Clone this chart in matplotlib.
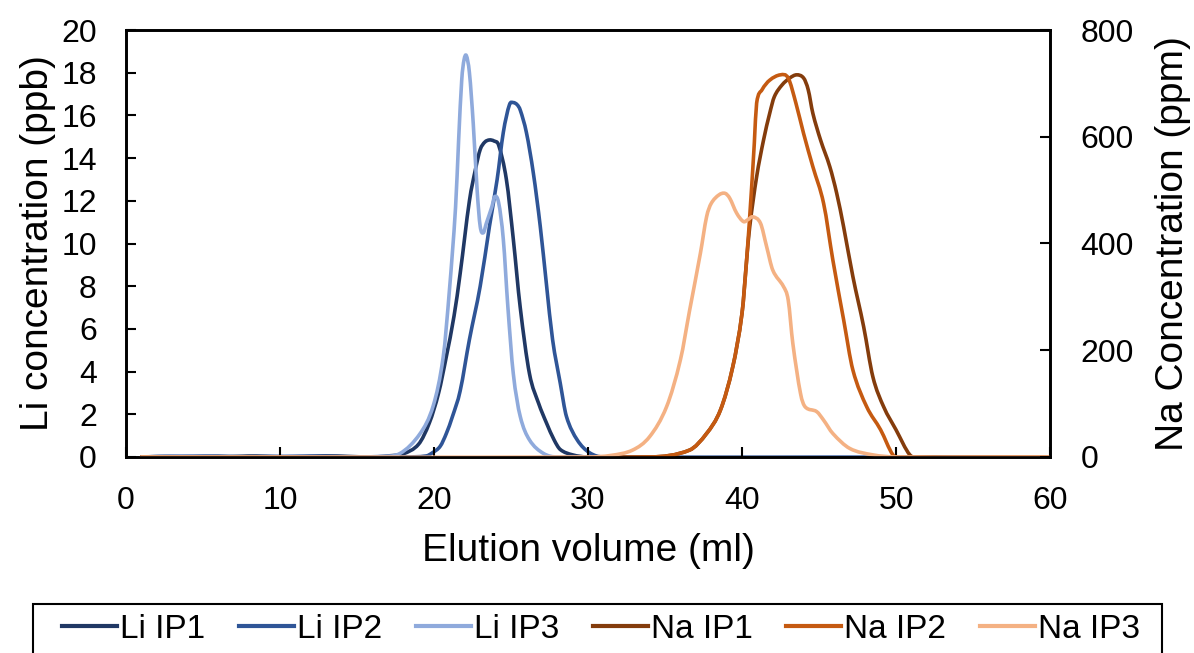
import matplotlib
matplotlib.use("Agg")
import matplotlib.pyplot as plt
from matplotlib.path import Path
from matplotlib.patches import PathPatch, Rectangle
from matplotlib.lines import Line2D

plt.rcParams['font.family'] = ['Liberation Sans', 'DejaVu Sans']

# Li series (left axis, ppb)
li_ip1_x = [1, 4, 6, 8.5, 11, 13, 16, 17, 18, 19, 19.7, 20.3, 20.8, 21.3, 21.7, 22.3, 22.7, 23.0, 23.3, 23.6,
            23.9, 24.2, 24.7, 25.15, 25.6, 26.2, 26.8, 27.3, 27.8, 28.2, 29, 30, 60]
li_ip1_y = [0, 0.04, 0, 0.05, 0, 0.05, 0, 0.05, 0.15, 0.6, 1.6, 3.0, 4.7, 6.6, 8.6, 12.0, 13.5, 14.4, 14.75, 14.85,
            14.8, 14.6, 13.0, 10.2, 7.0, 3.9, 2.5, 1.6, 0.8, 0.35, 0.1, 0, 0]

li_ip2_x = [1, 5, 9, 12, 15, 18, 19.5, 19.9, 20.4, 20.8, 21.2, 21.7, 22.3, 23.0, 23.6, 24.1, 24.5, 24.9, 25.15, 25.4,
            25.6, 26.0, 26.45, 26.9, 27.3, 27.7, 28.2, 28.6, 29.3, 30.1, 31, 60]
li_ip2_y = [0, 0.05, 0, 0.05, 0, 0, 0.05, 0.2, 0.5, 1.1, 1.9, 3.1, 5.5, 8.0, 10.8, 13.0, 15.2, 16.5, 16.6, 16.5,
            16.25, 15.2, 13.3, 10.8, 8.1, 5.5, 3.45, 1.9, 0.8, 0.2, 0, 0]

li_ip3_x = [1, 3.5, 7, 10, 14, 16.5, 17.8, 19.1, 19.95, 20.6, 21.0, 21.4, 21.6, 21.8, 21.95, 22.1, 22.3, 22.55, 22.8, 23.0,
            23.2, 23.4, 23.75, 23.95, 24.2, 24.5, 24.8, 25.15, 25.6, 26.2, 27.1, 28, 60]
li_ip3_y = [0, 0.05, 0, 0.04, 0, 0.03, 0.17, 1.1, 2.4, 4.7, 7.8, 11.7, 14.85, 17.65, 18.6, 18.8, 18.0, 15.6, 12.5, 10.8,
            10.5, 10.95, 11.7, 12.2, 11.9, 10.2, 7.0, 3.9, 1.9, 0.8, 0.17, 0, 0]

# Na series (right axis, ppm)
na_ip1_x = [1, 34, 36.6, 37.7, 38.6, 39.4, 40.0, 40.3, 40.5, 40.95, 41.4, 41.8, 42.1, 42.6, 43.1, 43.55, 44.0, 44.3,
            44.6, 45.1, 45.7, 46.15, 46.6, 47.2, 47.9, 48.5, 49.2, 50.0, 50.9, 51.5, 60]
na_ip1_y = [0, 0, 13, 44, 88, 169, 269, 369, 431, 525, 594, 644, 675, 697, 710, 716, 710, 688,
            644, 594, 544, 494, 431, 338, 244, 150, 94, 51, 4, 0, 0]

na_ip2_x = [1, 34, 36.6, 37.7, 38.6, 39.4, 40.0, 40.3, 40.6, 40.8, 40.95, 41.3, 41.8, 42.5, 43.0, 43.5, 44.0, 44.6,
            45.3, 45.9, 46.6, 47.2, 48.1, 49.0, 49.8, 50.3, 60]
na_ip2_y = [0, 0, 13, 44, 88, 169, 269, 369, 494, 588, 663, 688, 706, 716, 710, 663, 606, 544,
            475, 369, 257, 163, 94, 51, 4, 0, 0]

na_ip3_x = [1, 30, 31.5, 32.9, 34.0, 35.1, 36.0, 36.6, 37.3, 37.7, 38.0, 38.5, 38.9, 39.2, 39.65, 40.1, 40.4, 40.7,
            41.2, 41.6, 42.0, 42.7, 43.0, 43.3, 43.8, 44.1, 44.85, 45.3, 45.9, 47.0, 48.5, 50, 60]
na_ip3_y = [0, 0, 3, 13, 38, 94, 182, 275, 382, 450, 475, 491, 494, 485, 457, 441, 445, 450,
            438, 394, 350, 319, 294, 213, 119, 94, 85, 69, 44, 16, 4, 0, 0]

li_series = [("Li IP1", li_ip1_x, li_ip1_y, "#203864"),
             ("Li IP2", li_ip2_x, li_ip2_y, "#2F5597"),
             ("Li IP3", li_ip3_x, li_ip3_y, "#8FAADC")]
na_series = [("Na IP1", na_ip1_x, na_ip1_y, "#843C0C"),
             ("Na IP2", na_ip2_x, na_ip2_y, "#C55A11"),
             ("Na IP3", na_ip3_x, na_ip3_y, "#F4B183")]

LW = 2.6
W, H = 1194, 653


def smooth_path(xs, ys):
    # Excel-style smoothed line: cubic Bezier pieces through every data point
    n = len(xs)
    slopes = []
    for i in range(n):
        a = max(i - 1, 0)
        b = min(i + 1, n - 1)
        slopes.append((ys[b] - ys[a]) / (xs[b] - xs[a]))
    verts = [(xs[0], ys[0])]
    codes = [Path.MOVETO]
    for i in range(n - 1):
        dx = xs[i + 1] - xs[i]
        verts.append((xs[i] + dx / 3, ys[i] + slopes[i] * dx / 3))
        verts.append((xs[i + 1] - dx / 3, ys[i + 1] - slopes[i + 1] * dx / 3))
        verts.append((xs[i + 1], ys[i + 1]))
        codes += [Path.CURVE4] * 3
    return Path(verts, codes)


fig = plt.figure(figsize=(W / 100, H / 100), dpi=100)
ax = fig.add_axes([126 / W, 1 - 457 / H, 924 / W, 427 / H])
ax2 = ax.twinx()

handles = []
for target, series in ((ax, li_series), (ax2, na_series)):
    for name, xs, ys, col in series:
        target.add_patch(PathPatch(smooth_path(xs, ys), fill=False, edgecolor=col, lw=LW,
                                   joinstyle='round', capstyle='round'))
        handles.append(Line2D([], [], color=col, lw=3, label=name))

ax.set_xlim(0, 60)
ax.set_ylim(0, 20)
ax2.set_ylim(0, 800)
ax.set_xticks(range(0, 61, 10))
ax.set_yticks(range(0, 21, 2))
ax2.set_yticks(range(0, 801, 200))

for a in (ax, ax2):
    for sp in a.spines.values():
        sp.set_linewidth(1.9)
        sp.set_color("black")
ax.tick_params(axis='both', direction='in', length=7, width=1.5, labelsize=23, pad=21)
ax2.tick_params(axis='y', direction='in', length=7, width=1.5, labelsize=23, pad=22)

ax.set_xlabel("Elution volume (ml)", fontsize=28, labelpad=12)
ax.set_ylabel("Li concentration (ppb)", fontsize=28, labelpad=4)
ax2.set_ylabel("Na Concentration (ppm)", fontsize=28, labelpad=15)

# legend entries spread across the box; box drawn separately (runs off the bottom edge)
leg = fig.legend(handles, [h.get_label() for h in handles], loc='upper left', ncol=6,
                 bbox_to_anchor=(62 / W, 1 - 614 / H, 1078 / W, 0), mode='expand',
                 borderaxespad=0, borderpad=0, fontsize=24, handlelength=1.65, handletextpad=0.1,
                 frameon=False)
fig.patches.append(Rectangle((33 / W, -0.05), 1129 / W, 1 - 604 / H + 0.05,
                             transform=fig.transFigure, fill=False, edgecolor='black', lw=1.5))

fig.savefig("out.png", dpi=100)
